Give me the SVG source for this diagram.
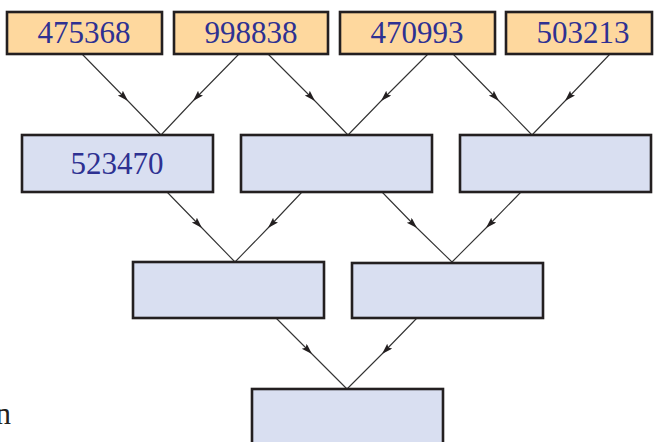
<svg xmlns="http://www.w3.org/2000/svg" width="654" height="442" viewBox="0 0 654 442">
<style>
.top{fill:#fed89e;stroke:#231f20;stroke-width:2.6}
.mid{fill:#d9dff1;stroke:#231f20;stroke-width:2.6}
.lbl{font-family:"Liberation Serif","Times New Roman",serif;font-size:31px;fill:#2e3192;text-anchor:middle}
.conn path{fill:none;stroke:#333;stroke-width:1.1;marker-mid:url(#ah)}
</style>
<defs>
<marker id="ah" markerUnits="userSpaceOnUse" markerWidth="12" markerHeight="8" refX="11" refY="3.5" orient="auto">
<path d="M0,0 L11,3.5 L0,7 L2,3.5 z" fill="#231f20"/>
</marker>
</defs>
<rect width="654" height="442" fill="#fff"/>
<g class="conn" id="connectors">
<path d="M82,54 L128,101 L161,135"/>
<path d="M239,54 L193,101 L161,135"/>
<path d="M268,54 L315,101 L348,135"/>
<path d="M428,54 L381,101 L348,135"/>
<path d="M453,54 L499,101 L532,135"/>
<path d="M610,54 L565,101 L532,135"/>
<path d="M167,192 L202,228 L235,262"/>
<path d="M302,192 L268,228 L235,262"/>
<path d="M382,192 L417,228 L452,262"/>
<path d="M521,192 L486,228 L452,262"/>
<path d="M276,318 L312,354 L347,389"/>
<path d="M417,318 L382,354 L347,389"/>
</g>
<g id="n1"><rect class="top" x="7" y="12" width="155" height="42"/><text class="lbl" x="84" y="43">475368</text></g>
<g id="n2"><rect class="top" x="174" y="12" width="154" height="42"/><text class="lbl" x="251" y="43">998838</text></g>
<g id="n3"><rect class="top" x="340" y="12" width="155" height="42"/><text class="lbl" x="417" y="43">470993</text></g>
<g id="n4"><rect class="top" x="506" y="12" width="146" height="42"/><text class="lbl" x="583" y="43">503213</text></g>
<g id="m1"><rect class="mid" x="22" y="135" width="191" height="57"/><text class="lbl" x="117" y="174">523470</text></g>
<g id="m2"><rect class="mid" x="241" y="135" width="191" height="57"/></g>
<g id="m3"><rect class="mid" x="460" y="135" width="191" height="57"/></g>
<g id="r1"><rect class="mid" x="133" y="262" width="191" height="56"/></g>
<g id="r2"><rect class="mid" x="352" y="263" width="191" height="55"/></g>
<g id="f1"><rect class="mid" x="252" y="389" width="191" height="60"/></g>
<text x="11" y="424" font-family="'Liberation Serif','Times New Roman',serif" font-size="31" fill="#231f20" text-anchor="end">n</text>
</svg>
